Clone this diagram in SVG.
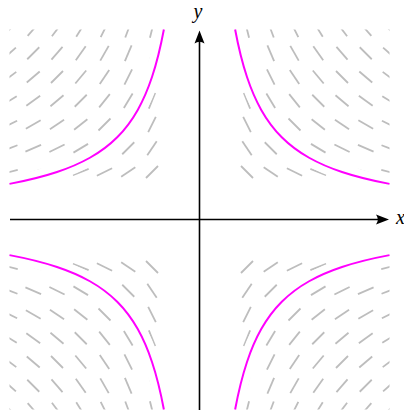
<svg xmlns="http://www.w3.org/2000/svg" width="404" height="410" viewBox="0 0 404 410">
<style>
.dash{stroke:#bdbdbd;stroke-width:1.8;fill:none;}
.halo{fill:none;stroke:#ffffff;stroke-width:16;}
.curve{fill:none;stroke:#ff00ff;stroke-width:2;}
.axis{stroke:#000;stroke-width:1.6;fill:none;}
.head{fill:#000;stroke:none;}
.label{font-family:"Liberation Serif","Times New Roman",serif;font-style:italic;font-size:20px;fill:#000;}
</style>
<defs>
<line id="d" x1="-8.5" y1="0" x2="8.5" y2="0"/>
<clipPath id="qc"><rect x="0" y="-190" width="190" height="190"/></clipPath>
<g id="quad" class="dash" clip-path="url(#qc)">
<use href="#d" transform="translate(47.5,-47.5) rotate(45)"/>
<use href="#d" transform="translate(71.25,-47.5) rotate(33.69)"/>
<use href="#d" transform="translate(95,-47.5) rotate(26.57)"/>
<use href="#d" transform="translate(118.75,-47.5) rotate(21.8)"/>
<use href="#d" transform="translate(142.5,-47.5) rotate(18.43)"/>
<use href="#d" transform="translate(166.25,-47.5) rotate(15.95)"/>
<use href="#d" transform="translate(190,-47.5) rotate(14.04)"/>
<use href="#d" transform="translate(47.5,-71.25) rotate(56.31)"/>
<use href="#d" transform="translate(71.25,-71.25) rotate(45)"/>
<use href="#d" transform="translate(95,-71.25) rotate(36.87)"/>
<use href="#d" transform="translate(118.75,-71.25) rotate(30.96)"/>
<use href="#d" transform="translate(142.5,-71.25) rotate(26.57)"/>
<use href="#d" transform="translate(166.25,-71.25) rotate(23.2)"/>
<use href="#d" transform="translate(190,-71.25) rotate(20.56)"/>
<use href="#d" transform="translate(47.5,-95) rotate(63.43)"/>
<use href="#d" transform="translate(71.25,-95) rotate(53.13)"/>
<use href="#d" transform="translate(95,-95) rotate(45)"/>
<use href="#d" transform="translate(118.75,-95) rotate(38.66)"/>
<use href="#d" transform="translate(142.5,-95) rotate(33.69)"/>
<use href="#d" transform="translate(166.25,-95) rotate(29.74)"/>
<use href="#d" transform="translate(190,-95) rotate(26.57)"/>
<use href="#d" transform="translate(47.5,-118.75) rotate(68.2)"/>
<use href="#d" transform="translate(71.25,-118.75) rotate(59.04)"/>
<use href="#d" transform="translate(95,-118.75) rotate(51.34)"/>
<use href="#d" transform="translate(118.75,-118.75) rotate(45)"/>
<use href="#d" transform="translate(142.5,-118.75) rotate(39.81)"/>
<use href="#d" transform="translate(166.25,-118.75) rotate(35.54)"/>
<use href="#d" transform="translate(190,-118.75) rotate(32.01)"/>
<use href="#d" transform="translate(47.5,-142.5) rotate(71.57)"/>
<use href="#d" transform="translate(71.25,-142.5) rotate(63.43)"/>
<use href="#d" transform="translate(95,-142.5) rotate(56.31)"/>
<use href="#d" transform="translate(118.75,-142.5) rotate(50.19)"/>
<use href="#d" transform="translate(142.5,-142.5) rotate(45)"/>
<use href="#d" transform="translate(166.25,-142.5) rotate(40.6)"/>
<use href="#d" transform="translate(190,-142.5) rotate(36.87)"/>
<use href="#d" transform="translate(47.5,-166.25) rotate(74.05)"/>
<use href="#d" transform="translate(71.25,-166.25) rotate(66.8)"/>
<use href="#d" transform="translate(95,-166.25) rotate(60.26)"/>
<use href="#d" transform="translate(118.75,-166.25) rotate(54.46)"/>
<use href="#d" transform="translate(142.5,-166.25) rotate(49.4)"/>
<use href="#d" transform="translate(166.25,-166.25) rotate(45)"/>
<use href="#d" transform="translate(190,-166.25) rotate(41.19)"/>
<use href="#d" transform="translate(47.5,-190) rotate(75.96)"/>
<use href="#d" transform="translate(71.25,-190) rotate(69.44)"/>
<use href="#d" transform="translate(95,-190) rotate(63.43)"/>
<use href="#d" transform="translate(118.75,-190) rotate(57.99)"/>
<use href="#d" transform="translate(142.5,-190) rotate(53.13)"/>
<use href="#d" transform="translate(166.25,-190) rotate(48.81)"/>
<use href="#d" transform="translate(190,-190) rotate(45)"/>
</g>
<path id="hyp" d="M35.625,-190 C39.583,-168.889 43.542,-154.375 47.5,-142.5 C52.25,-128.25 57,-118.047 61.75,-109.615 C68.591,-97.471 75.431,-89.113 82.272,-82.272 C89.113,-75.431 97.471,-68.591 109.615,-61.75 C118.047,-57 128.25,-52.25 142.5,-47.5 C154.375,-43.542 168.889,-39.583 190,-35.625"/>
</defs>
<g id="slope-field" transform="translate(199.5,219.5)">
<use href="#quad"/>
<use href="#quad" transform="scale(-1,1)"/>
<use href="#quad" transform="scale(1,-1)"/>
<use href="#quad" transform="scale(-1,-1)"/>
</g>
<g id="curves" transform="translate(199.5,219.5)">
<use href="#hyp" class="halo"/>
<use href="#hyp" class="halo" transform="scale(-1,1)"/>
<use href="#hyp" class="halo" transform="scale(1,-1)"/>
<use href="#hyp" class="halo" transform="scale(-1,-1)"/>
<use href="#hyp" class="curve"/>
<use href="#hyp" class="curve" transform="scale(-1,1)"/>
<use href="#hyp" class="curve" transform="scale(1,-1)"/>
<use href="#hyp" class="curve" transform="scale(-1,-1)"/>
</g>
<g id="axes">
<line class="axis" x1="10" y1="219.5" x2="380" y2="219.5"/>
<path class="head" d="M389,219.5 L376,214.5 Q379.5,219.5 376,224.5 Z"/>
<line class="axis" x1="199.5" y1="410" x2="199.5" y2="40"/>
<path class="head" d="M199.5,30.5 L194.5,43.5 Q199.5,40 204.5,43.5 Z"/>
</g>
<g id="labels">
<text class="label" x="396" y="224">x</text>
<text class="label" x="198" y="18" text-anchor="middle">y</text>
</g>
</svg>
